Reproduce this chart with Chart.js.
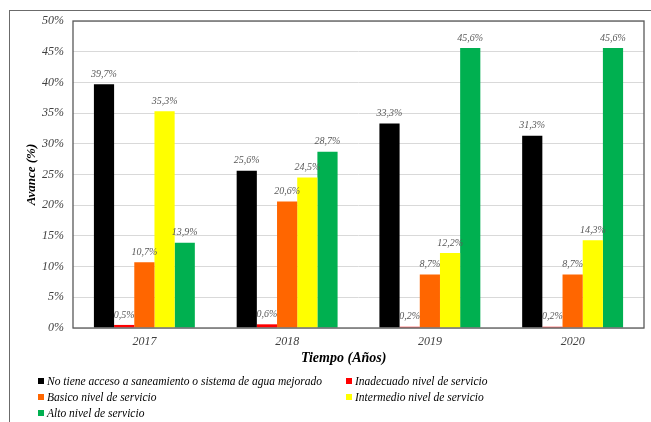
<!DOCTYPE html>
<html>
<head>
<meta charset="utf-8">
<script src="https://cdn.jsdelivr.net/npm/chart.js@4/dist/chart.umd.min.js"></script>
<style>
  html, body { margin: 0; padding: 0; background: #fff; }
  #wrap { position: relative; width: 651px; height: 422px; overflow: hidden; }
  #frame { position: absolute; left: 9px; top: 10px; width: 700px; height: 500px;
           border-left: 1px solid #6b6b6b; border-top: 1px solid #6b6b6b; }
  #chart { position: absolute; left: 0; top: 0; }
  #legend { position: absolute; left: 0; top: 0; width: 651px; height: 422px; pointer-events: none;
            font-family: 'Times New Roman', 'Liberation Serif', serif; font-style: italic; font-size: 11.5px; color: #000; }
  .item { position: absolute; white-space: nowrap; line-height: 12px; }
  .item span { display: inline-block; width: 6px; height: 6px; margin-right: 3px; vertical-align: 1px; }
</style>
</head>
<body>
<div id="wrap">
  <div id="frame"></div>
  <canvas id="chart" width="651" height="422"></canvas>
  <div id="legend"></div>
</div>
<script>
const years = ['2017', '2018', '2019', '2020']
const seriesNames = [
  'No tiene acceso a saneamiento o sistema de agua mejorado',
  'Inadecuado nivel de servicio',
  'Basico nivel de servicio',
  'Intermedio nivel de servicio',
  'Alto nivel de servicio'
]
const sinAcceso = [39.7, 25.6, 33.3, 31.3]
const inadecuado = [0.5, 0.6, 0.2, 0.2]
const basico = [10.7, 20.6, 8.7, 8.7]
const intermedio = [35.3, 24.5, 12.2, 14.3]
const alto = [13.9, 28.7, 45.6, 45.6]
const yTicks = [0, 5, 10, 15, 20, 25, 30, 35, 40, 45, 50]

const colors = ['#000000', '#ff0000', '#ff6600', '#ffff00', '#00b050']
const serif = "'Times New Roman', 'Liberation Serif', serif"

const fmt = v => v.toFixed(1).replace('.', ',') + '%'

// etiquetas sobre las barras
const barLabels = {
  id: 'barLabels',
  afterDatasetsDraw (chart) {
    const ctx = chart.ctx
    ctx.save()
    ctx.font = 'italic 10px ' + serif
    ctx.fillStyle = '#595959'
    ctx.textAlign = 'center'
    ctx.textBaseline = 'bottom'
    chart.data.datasets.forEach((ds, i) => {
      chart.getDatasetMeta(i).data.forEach((bar, j) => {
        ctx.fillText(fmt(ds.data[j]), bar.x, bar.y - 5)
      })
    })
    ctx.restore()
  }
}

// borde del area de trazado y titulo del eje x (desplazado como en el original)
const plotBorder = {
  id: 'plotBorder',
  afterDraw (chart) {
    const a = chart.chartArea
    const ctx = chart.ctx
    ctx.save()
    ctx.strokeStyle = '#595959'
    ctx.lineWidth = 1.3
    ctx.strokeRect(a.left, a.top, a.right - a.left, a.bottom - a.top)
    ctx.font = 'italic bold 14px ' + serif
    ctx.fillStyle = '#000'
    ctx.textAlign = 'center'
    ctx.textBaseline = 'middle'
    ctx.fillText('Tiempo (Años)', a.left + (a.right - a.left) * 0.474, a.bottom + 30)
    ctx.restore()
  }
}

const allData = [sinAcceso, inadecuado, basico, intermedio, alto]

new Chart(document.getElementById('chart'), {
  type: 'bar',
  data: {
    labels: years,
    datasets: allData.map((d, i) => ({
      label: seriesNames[i],
      data: d,
      backgroundColor: colors[i],
      borderWidth: 0,
      categoryPercentage: 0.707,
      barPercentage: 1.0
    }))
  },
  options: {
    responsive: false,
    animation: false,
    layout: { padding: { left: 20, top: 21, right: 7, bottom: 54 } },
    plugins: {
      legend: { display: false },
      tooltip: { enabled: false }
    },
    scales: {
      x: {
        grid: { display: false, drawTicks: false },
        border: { display: false },
        ticks: { padding: 7, color: '#404040', font: { family: serif, style: 'italic', size: 12 } },
        afterFit (scale) { scale.height = 40 }
      },
      y: {
        min: 0,
        max: 50,
        afterBuildTicks (scale) { scale.ticks = yTicks.map(v => ({ value: v })) },
        grid: { color: '#d9d9d9', lineWidth: 1, drawTicks: false },
        border: { display: false },
        ticks: {
          padding: 9,
          color: '#404040',
          font: { family: serif, style: 'italic', size: 12 },
          callback: v => v + '%'
        },
        title: {
          display: true,
          text: 'Avance (%)',
          color: '#000',
          padding: { top: 4, bottom: 0 },
          font: { family: serif, style: 'italic', weight: 'bold', size: 13 }
        },
        afterFit (scale) { scale.width = 53 }
      }
    }
  },
  plugins: [barLabels, plotBorder]
})

// leyenda en dos columnas
const legendPos = [[38, 375], [346, 375], [38, 391], [346, 391], [38, 407]]
const legend = document.getElementById('legend')
seriesNames.forEach((name, i) => {
  const el = document.createElement('div')
  el.className = 'item'
  el.style.left = legendPos[i][0] + 'px'
  el.style.top = legendPos[i][1] + 'px'
  el.innerHTML = '<span style="background:' + colors[i] + '"></span>' + name
  legend.appendChild(el)
})
</script>
</body>
</html>
